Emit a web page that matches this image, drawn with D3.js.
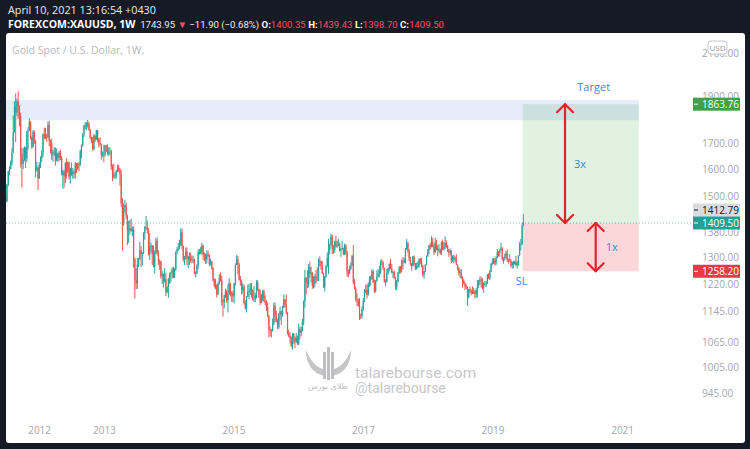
<!DOCTYPE html>
<html>
<head>
<meta charset="utf-8">
<script src="https://cdn.jsdelivr.net/npm/d3@7"></script>
<style>
  body { margin: 0; background: #161a25; }
  svg { display: block; }
</style>
</head>
<body>
<div id="chart"></div>
<script>
// weekly candles [open, high, low, close], first week = 2011-06-27
const firstWeek = new Date(2011, 5, 27);

const gold2011 = [
  [1500,1512,1478,1483],[1483,1545,1481,1543],[1543,1594,1537,1591],[1591,1610,1577,1601],[1601,1632,1599,1624],
  [1624,1681,1613,1663],[1663,1814,1662,1745],[1745,1877,1744,1852],[1852,1911,1705,1828],[1828,1889,1812,1876],
  [1876,1921,1800,1856],[1856,1860,1769,1813],[1813,1827,1606,1657],[1657,1682,1532,1620],[1620,1681,1600,1636],
  [1636,1688,1630,1683],[1683,1685,1604,1642],[1642,1751,1627,1747],[1747,1766,1675,1753],[1753,1803,1750,1788],
  [1788,1790,1715,1725],[1725,1728,1677,1686],[1686,1754,1683,1746],[1746,1752,1697,1711],[1711,1713,1570,1597],
  [1597,1628,1590,1606],[1606,1610,1523,1565]
];
const gold2012 = [
  [1565,1626,1564,1616],[1616,1648,1604,1642],[1642,1672,1627,1664],[1664,1740,1645,1737],[1737,1764,1716,1725],
  [1725,1763,1716,1725],[1725,1738,1706,1724],[1724,1790,1722,1776],[1776,1792,1688,1710],[1710,1715,1660,1700],
  [1700,1718,1635,1656],[1656,1675,1627,1662],[1662,1686,1650,1668],[1668,1683,1613,1631],[1631,1680,1630,1660],
  [1660,1663,1626,1642],[1642,1670,1631,1663],[1663,1675,1634,1643],[1643,1650,1576,1579],[1579,1598,1527,1591],
  [1591,1596,1532,1573],[1573,1627,1548,1622],[1622,1641,1565,1591],[1591,1628,1584,1627],[1627,1628,1562,1572],
  [1572,1605,1546,1604],[1604,1625,1575,1580],[1580,1604,1564,1590],[1590,1598,1566,1584],[1584,1627,1563,1619],
  [1619,1623,1585,1604],[1604,1625,1597,1620],[1620,1626,1592,1615],[1615,1675,1612,1670],[1670,1695,1641,1692],
  [1692,1741,1686,1739],[1739,1776,1725,1772],[1772,1787,1757,1773],[1773,1787,1752,1776],[1776,1796,1764,1781],
  [1781,1788,1751,1757],[1757,1758,1718,1723],[1723,1727,1700,1711],[1711,1726,1672,1676],[1676,1737,1672,1730],
  [1730,1735,1705,1713],[1713,1754,1713,1752],[1752,1755,1704,1713],[1713,1722,1683,1702],[1702,1724,1690,1697],
  [1697,1699,1636,1657],[1657,1668,1646,1657],[1657,1694,1626,1656]
];
const gold2013 = [
  [1656,1694,1647,1691],[1691,1694,1666,1686],[1686,1695,1654,1659],[1659,1684,1649,1666],[1666,1684,1655,1667],
  [1667,1674,1597,1609],[1609,1617,1555,1581],[1581,1620,1565,1572],[1572,1588,1562,1577],[1577,1597,1565,1592],
  [1592,1616,1588,1605],[1605,1617,1589,1596],[1596,1604,1539,1580],[1580,1597,1464,1476],[1476,1494,1321,1405],
  [1405,1476,1400,1462],[1462,1488,1444,1469],[1469,1478,1422,1435],[1435,1437,1338,1386],[1386,1417,1345,1386],
  [1386,1420,1371,1392],[1392,1424,1381,1383],[1383,1398,1366,1387],[1387,1398,1269,1296],[1296,1299,1180,1234],
  [1234,1267,1207,1223],[1223,1298,1207,1277],[1277,1299,1271,1296],[1296,1349,1292,1322],[1322,1336,1271,1310],
  [1310,1317,1275,1312],[1312,1379,1311,1376],[1376,1400,1355,1395],[1395,1433,1386,1396],[1396,1418,1375,1387],
  [1387,1392,1306,1308],[1308,1376,1292,1333],[1333,1346,1315,1337],[1337,1338,1277,1310],[1310,1336,1270,1272],
  [1272,1322,1251,1316],[1316,1361,1310,1352],[1352,1362,1306,1314],[1314,1322,1277,1287],[1287,1294,1262,1288],
  [1288,1290,1237,1244],[1244,1259,1221,1250],[1250,1252,1211,1230],[1230,1268,1225,1235],[1235,1254,1187,1198],
  [1198,1214,1195,1213],[1213,1238,1182,1237]
];
const gold2014 = [
  [1237,1254,1221,1252],[1252,1256,1225,1254],[1254,1270,1236,1264],[1264,1272,1238,1240],[1240,1268,1238,1263],
  [1263,1318,1260,1318],[1318,1332,1309,1325],[1325,1345,1320,1326],[1326,1355,1325,1339],[1339,1392,1336,1379],
  [1379,1392,1325,1335],[1335,1337,1287,1294],[1294,1304,1277,1303],[1303,1331,1293,1318],[1318,1331,1277,1294],
  [1294,1305,1268,1301],[1301,1315,1277,1302],[1302,1315,1284,1291],[1291,1306,1282,1293],[1293,1305,1283,1292],
  [1292,1296,1250,1250],[1250,1258,1240,1252],[1252,1280,1250,1274],[1274,1325,1265,1316],[1316,1326,1308,1316],
  [1316,1332,1310,1317],[1317,1345,1307,1337],[1337,1339,1292,1310],[1310,1315,1288,1304],[1304,1312,1280,1293],
  [1293,1322,1281,1309],[1309,1321,1302,1305],[1305,1310,1273,1280],[1280,1296,1276,1287],[1287,1290,1262,1268],
  [1268,1270,1228,1231],[1231,1237,1211,1216],[1216,1236,1206,1217],[1217,1221,1183,1192],[1192,1226,1189,1222],
  [1222,1250,1219,1238],[1238,1255,1228,1231],[1231,1246,1161,1171],[1171,1179,1131,1169],[1169,1191,1153,1189],
  [1189,1208,1182,1200],[1200,1204,1168,1175],[1175,1222,1142,1191],[1191,1238,1191,1222],[1222,1225,1186,1195],
  [1195,1200,1171,1195],[1195,1202,1170,1186]
];
const gold2015 = [
  [1186,1224,1167,1224],[1224,1282,1216,1277],[1277,1307,1277,1294],[1294,1305,1250,1279],[1279,1283,1232,1234],
  [1234,1245,1216,1228],[1228,1234,1191,1204],[1204,1223,1194,1213],[1213,1220,1163,1167],[1167,1175,1150,1153],
  [1153,1187,1142,1185],[1185,1219,1184,1200],[1200,1221,1178,1201],[1201,1224,1190,1208],[1208,1224,1183,1203],
  [1203,1206,1175,1178],[1178,1215,1170,1179],[1179,1196,1170,1188],[1188,1232,1180,1225],[1225,1232,1201,1205],
  [1205,1207,1181,1189],[1189,1205,1162,1168],[1168,1193,1167,1180],[1180,1205,1172,1201],[1201,1205,1170,1174],
  [1174,1189,1162,1168],[1168,1176,1146,1157],[1157,1170,1130,1133],[1133,1135,1077,1098],[1098,1104,1080,1095],
  [1095,1098,1077,1094],[1094,1126,1092,1113],[1113,1170,1109,1160],[1160,1168,1117,1134],[1134,1146,1115,1121],
  [1121,1125,1098,1103],[1103,1141,1099,1137],[1137,1157,1121,1145],[1145,1147,1109,1137],[1137,1160,1131,1156],
  [1156,1191,1154,1177],[1177,1179,1157,1163],[1163,1191,1137,1142],[1142,1143,1084,1088],[1088,1097,1077,1081],
  [1081,1090,1062,1076],[1076,1079,1052,1056],[1056,1088,1046,1086],[1086,1088,1061,1075],[1075,1080,1050,1065],
  [1065,1088,1063,1076],[1076,1082,1058,1061]
];
const gold2016 = [
  [1061,1113,1058,1098],[1098,1105,1072,1089],[1089,1104,1080,1097],[1097,1125,1092,1118],[1118,1175,1108,1173],
  [1173,1263,1155,1239],[1239,1241,1191,1227],[1227,1261,1209,1221],[1221,1280,1211,1270],[1270,1287,1239,1250],
  [1250,1272,1226,1254],[1254,1256,1208,1217],[1217,1244,1208,1221],[1221,1250,1211,1243],[1243,1262,1224,1234],
  [1234,1270,1230,1231],[1231,1297,1230,1290],[1290,1303,1272,1289],[1289,1290,1262,1273],[1273,1289,1250,1252],
  [1252,1254,1210,1212],[1212,1245,1200,1243],[1243,1276,1239,1275],[1275,1315,1270,1298],[1298,1358,1250,1322],
  [1322,1343,1309,1340],[1340,1375,1336,1366],[1366,1372,1310,1327],[1327,1338,1311,1323],[1323,1352,1314,1350],
  [1350,1368,1330,1335],[1335,1352,1330,1335],[1335,1358,1335,1341],[1341,1346,1318,1321],[1321,1330,1301,1326],
  [1326,1352,1323,1328],[1328,1330,1307,1310],[1310,1343,1307,1337],[1337,1341,1308,1316],[1316,1320,1242,1257],
  [1257,1264,1241,1251],[1251,1275,1250,1266],[1266,1284,1262,1275],[1275,1308,1274,1304],[1304,1338,1220,1226],
  [1226,1235,1205,1208],[1208,1213,1171,1178],[1178,1194,1160,1177],[1177,1180,1157,1160],[1160,1181,1122,1134],
  [1134,1139,1124,1133],[1133,1159,1126,1151]
];
const gold2017 = [
  [1151,1181,1146,1173],[1173,1207,1170,1197],[1197,1220,1195,1204],[1204,1219,1180,1190],[1190,1226,1188,1220],
  [1220,1244,1213,1234],[1234,1245,1216,1236],[1236,1264,1233,1257],[1257,1263,1224,1226],[1226,1234,1195,1201],
  [1201,1233,1197,1229],[1229,1261,1228,1243],[1243,1264,1240,1249],[1249,1274,1240,1254],[1254,1292,1250,1285],
  [1285,1295,1276,1284],[1284,1289,1262,1268],[1268,1269,1225,1228],[1228,1235,1214,1228],[1228,1265,1225,1254],
  [1254,1269,1248,1267],[1267,1282,1258,1280],[1280,1296,1264,1266],[1266,1280,1252,1254],[1254,1260,1238,1256],
  [1256,1260,1236,1241],[1241,1242,1205,1212],[1212,1233,1204,1228],[1228,1256,1225,1254],[1254,1274,1250,1269],
  [1269,1274,1252,1264],[1264,1294,1255,1289],[1289,1301,1264,1285],[1285,1298,1282,1291],[1291,1329,1281,1325],
  [1325,1357,1323,1346],[1346,1348,1313,1320],[1320,1326,1288,1297],[1297,1302,1275,1280],[1280,1283,1260,1274],
  [1274,1305,1272,1303],[1303,1306,1276,1280],[1280,1283,1262,1266],[1266,1284,1263,1269],[1269,1288,1268,1275],
  [1275,1297,1270,1294],[1294,1298,1279,1288],[1288,1299,1270,1275],[1275,1278,1242,1248],[1248,1260,1236,1256],
  [1256,1279,1255,1278],[1278,1306,1277,1303]
];
const gold2018 = [
  [1303,1326,1302,1322],[1322,1338,1310,1338],[1338,1345,1324,1332],[1332,1366,1331,1349],[1349,1361,1331,1333],
  [1333,1341,1307,1316],[1316,1362,1313,1347],[1347,1355,1322,1330],[1330,1338,1303,1323],[1323,1341,1316,1324],
  [1324,1327,1309,1313],[1313,1350,1307,1347],[1347,1356,1322,1325],[1325,1348,1321,1332],[1332,1366,1325,1345],
  [1345,1353,1330,1336],[1336,1338,1316,1323],[1323,1326,1302,1314],[1314,1327,1306,1320],[1320,1322,1283,1291],
  [1291,1306,1286,1302],[1302,1308,1282,1294],[1294,1303,1286,1298],[1298,1310,1277,1278],[1278,1279,1261,1269],
  [1269,1270,1246,1253],[1253,1263,1238,1255],[1255,1265,1235,1241],[1241,1244,1211,1231],[1231,1235,1220,1223],
  [1223,1227,1204,1214],[1214,1220,1206,1211],[1211,1214,1160,1184],[1184,1207,1180,1206],[1206,1214,1195,1201],
  [1201,1206,1189,1196],[1196,1214,1192,1194],[1194,1211,1193,1200],[1200,1204,1180,1192],[1192,1209,1182,1203],
  [1203,1233,1183,1218],[1218,1233,1210,1228],[1228,1243,1218,1234],[1234,1243,1211,1233],[1233,1238,1206,1209],
  [1209,1226,1196,1222],[1222,1230,1216,1222],[1222,1230,1212,1222],[1222,1250,1221,1248],[1248,1253,1235,1238],
  [1238,1262,1232,1257],[1257,1283,1256,1280],[1280,1298,1276,1285]
];
const gold2019 = [
  [1285,1298,1280,1290],[1290,1298,1276,1282],[1282,1304,1276,1298],[1298,1326,1297,1317],[1317,1319,1303,1314],
  [1314,1324,1302,1322],[1322,1346,1320,1328],[1328,1332,1290,1294],[1294,1300,1281,1298],[1298,1311,1290,1302],
  [1302,1320,1296,1313],[1313,1325,1286,1292],[1292,1296,1281,1291],[1291,1310,1287,1290],[1290,1295,1270,1276],
  [1276,1287,1266,1286],[1286,1290,1267,1280],[1280,1290,1278,1286],[1286,1304,1274,1276],[1276,1289,1266,1284],
  [1284,1306,1275,1306],[1306,1348,1305,1341],[1341,1358,1321,1341],[1341,1411,1338,1400],[1400.35,1439.43,1398.70,1409.50]
];

// price axis ticks and year labels
const priceTicks = [2100, 1900, 1700, 1600, 1500, 1380, 1300, 1220, 1145, 1065, 1005, 945];
const yearTicks = [2012, 2013, 2015, 2017, 2019, 2021];

// drawing levels
const targetPrice = 1863.76;
const entryPrice = 1409.50;
const stopPrice = 1258.20;
const markPrice = 1412.79;
const resistBand = [1795, 1882];
const toolStart = new Date(2019, 5, 20), toolEnd = new Date(2021, 3, 5);
const arrowDates = [new Date(2020, 1, 14), new Date(2020, 7, 5)];

const W = 750, H = 449;
const plot = {left: 6, top: 33, right: 692, bottom: 420};

const candles = [].concat(gold2011, gold2012, gold2013, gold2014, gold2015, gold2016, gold2017, gold2018, gold2019)
  .map(function(d, i) {
    return {date: d3.timeWeek.offset(firstWeek, i), o: d[0], h: d[1], l: d[2], c: d[3]};
  });

const x = d3.scaleTime()
  .domain([new Date(2013, 0, 1), new Date(2019, 0, 1)])
  .range([104, 492.5]);

const y = d3.scaleLog()
  .domain([945, 1900])
  .range([393, 96]);

const svg = d3.select('#chart').append('svg')
  .attr('width', W).attr('height', H)
  .style('font-family', '"Open Sans", sans-serif');

svg.append('rect').attr('width', W).attr('height', H).attr('fill', '#161a25');
svg.append('rect')
  .attr('x', 6).attr('y', 33).attr('width', 739).attr('height', 410)
  .attr('rx', 3).attr('fill', '#ffffff');

// header
const head = svg.append('g').attr('font-size', 10.8).attr('fill', '#e8eaed');
head.append('text').attr('x', 8).attr('y', 14).text('April 10, 2021 13:16:54 +0430');
const l2 = head.append('text').attr('x', 8).attr('y', 28);
const red = '#f0505c';
[['FOREXCOM:XAUUSD, 1W', '#fff', 700, 10.5, 'Open Sans'],
 ['  1743.95 ', '#e8eaed', 400, 9.6, 'Roboto'], ['\u25BC', red, 400, 9.6, 'Roboto'],
 [' \u221211.90 (\u22120.68%) ', '#e8eaed', 400, 9.6, 'Roboto'],
 ['O:', '#fff', 700, 9.6, 'Roboto'], ['1400.35', red, 400, 9.6, 'Roboto'],
 [' H:', '#fff', 700, 9.6, 'Roboto'], ['1439.43', red, 400, 9.6, 'Roboto'],
 [' L:', '#fff', 700, 9.6, 'Roboto'], ['1398.70', red, 400, 9.6, 'Roboto'],
 [' C:', '#fff', 700, 9.6, 'Roboto'], ['1409.50', red, 400, 9.6, 'Roboto']]
  .forEach(function(p) {
    l2.append('tspan').attr('fill', p[1]).attr('font-weight', p[2]).attr('font-size', p[3])
      .attr('font-family', p[4]).attr('xml:space', 'preserve').text(p[0]);
  });

svg.append('text').attr('x', 12).attr('y', 54).attr('font-size', 10.5)
  .attr('fill', '#b6b9c0').text('Gold Spot / U.S. Dollar, 1W,');

svg.append('clipPath').attr('id', 'clip').append('rect')
  .attr('x', plot.left).attr('y', plot.top)
  .attr('width', plot.right - plot.left).attr('height', plot.bottom - plot.top);

const area = svg.append('g').attr('clip-path', 'url(#clip)');

// position tool zones
area.append('rect')
  .attr('x', x(toolStart)).attr('width', x(toolEnd) - x(toolStart))
  .attr('y', y(targetPrice)).attr('height', y(entryPrice) - y(targetPrice))
  .attr('fill', 'rgba(76,175,80,0.17)');
area.append('rect')
  .attr('x', x(toolStart)).attr('width', x(toolEnd) - x(toolStart))
  .attr('y', y(entryPrice)).attr('height', y(stopPrice) - y(entryPrice))
  .attr('fill', 'rgba(242,54,69,0.2)');

// resistance band
area.append('rect')
  .attr('x', plot.left).attr('width', x(toolEnd) - plot.left)
  .attr('y', y(resistBand[1])).attr('height', y(resistBand[0]) - y(resistBand[1]))
  .attr('fill', 'rgba(60,110,220,0.13)');

// watermark
const wm = svg.append('g');
wm.append('path')
  .attr('d', 'M306,350 C306,366 315,375 326,376 L326,370 C317,368 311,362 306,350 Z')
  .attr('fill', '#c6c6c8');
wm.append('path')
  .attr('d', 'M351,350 C351,366 342,375 331,376 L331,370 C340,368 346,362 351,350 Z')
  .attr('fill', '#c6c6c8');
[324.5, 328.5, 332.5].forEach(function(px, i) {
  wm.append('rect').attr('x', px - 1.5).attr('y', i === 1 ? 347 : 352)
    .attr('width', 3).attr('height', i === 1 ? 33 : 27).attr('fill', '#bfbfc1');
});
wm.append('text').attr('x', 328).attr('y', 389).attr('text-anchor', 'middle')
  .attr('font-size', 8).attr('fill', '#bdbdbf').attr('font-family', '"DejaVu Sans", sans-serif')
  .text('طلای بورس');
wm.append('text').attr('x', 355).attr('y', 378).attr('font-size', 15.5)
  .attr('font-family', 'Roboto, sans-serif').attr('fill', '#c8c8ca').text('talarebourse.com');
wm.append('text').attr('x', 355).attr('y', 393).attr('font-size', 14)
  .attr('font-family', 'Roboto, sans-serif').attr('fill', '#c8c8ca').text('@talarebourse');

// entry dotted line
area.append('line')
  .attr('x1', plot.left).attr('x2', plot.right)
  .attr('y1', y(entryPrice)).attr('y2', y(entryPrice))
  .attr('stroke', '#26a69a').attr('stroke-opacity', 0.7)
  .attr('stroke-width', 1).attr('stroke-dasharray', '1,2');

// candles
const up = '#26a69a', down = '#ef5350';
const bars = area.selectAll('.candle').data(candles).enter().append('g').attr('class', 'candle');
bars.append('line')
  .attr('x1', function(d) { return x(d.date); })
  .attr('x2', function(d) { return x(d.date); })
  .attr('y1', function(d) { return y(d.h); })
  .attr('y2', function(d) { return y(d.l); })
  .attr('stroke', function(d) { return d.c >= d.o ? up : down; })
  .attr('stroke-width', 1);
bars.append('rect')
  .attr('x', function(d) { return x(d.date) - 0.6; })
  .attr('width', 1.2)
  .attr('y', function(d) { return y(Math.max(d.o, d.c)); })
  .attr('height', function(d) { return Math.max(0.8, Math.abs(y(d.o) - y(d.c))); })
  .attr('fill', function(d) { return d.c >= d.o ? up : down; });

// arrows
function arrow(date, p1, p2) {
  const ax = x(date), ya = y(p1), yb = y(p2);
  const g = area.append('g').attr('stroke', '#e5212b').attr('stroke-width', 2.2)
    .attr('fill', 'none').attr('stroke-linecap', 'round').attr('stroke-linejoin', 'round');
  g.append('line').attr('x1', ax).attr('x2', ax).attr('y1', ya).attr('y2', yb);
  g.append('path').attr('d', `M${ax - 8},${ya + 8} L${ax},${ya} L${ax + 8},${ya + 8}`);
  g.append('path').attr('d', `M${ax - 8},${yb - 8} L${ax},${yb} L${ax + 8},${yb - 8}`);
}
arrow(arrowDates[0], targetPrice, entryPrice);
arrow(arrowDates[1], entryPrice, stopPrice);

const blue = '#3f86dc';
const labels = svg.append('g').attr('fill', blue).attr('font-size', 11).attr('text-anchor', 'middle');
labels.append('text').attr('x', x(arrowDates[0]) + 15).attr('y', (y(targetPrice) + y(entryPrice)) / 2 + 4).text('3x');
labels.append('text').attr('x', x(arrowDates[1]) + 16).attr('y', (y(entryPrice) + y(stopPrice)) / 2 + 4).text('1x');
labels.append('text').attr('x', x(arrowDates[1]) - 2).attr('y', y(targetPrice) - 13).text('Target');
labels.append('text').attr('x', x(toolStart) - 1).attr('y', y(stopPrice) + 14).text('SL');

// price axis
const yAxis = svg.append('g')
  .attr('transform', 'translate(702,0)')
  .call(d3.axisRight(y).tickValues(priceTicks).tickFormat(d3.format('.2f')).tickSize(0).tickPadding(0));
yAxis.select('.domain').remove();
yAxis.selectAll('text').attr('fill', '#a3a6ae').attr('font-size', 10).attr('font-family', '"Open Sans", sans-serif');

// time axis
const xAxis = svg.append('g')
  .attr('transform', 'translate(0,427)')
  .call(d3.axisBottom(x).tickValues(yearTicks.map(function(yr) { return new Date(yr, 0, 1); }))
    .tickFormat(d3.timeFormat('%Y')).tickSize(0).tickPadding(0));
xAxis.select('.domain').remove();
xAxis.selectAll('text').attr('fill', '#a3a6ae').attr('font-size', 10).attr('font-family', '"Open Sans", sans-serif');

// USD badge
const usd = svg.append('g');
usd.append('rect').attr('x', 708).attr('y', 41).attr('width', 19).attr('height', 13).attr('rx', 3)
  .attr('fill', '#fff').attr('stroke', '#c5c7cc');
usd.append('text').attr('x', 717.5).attr('y', 51).attr('text-anchor', 'middle')
  .attr('font-size', 8).attr('fill', '#9a9da5').text('USD');

// price labels on the scale
function priceTag(yc, text, bg, fg) {
  const g = svg.append('g');
  g.append('rect').attr('x', 693).attr('y', yc - 6.5).attr('width', 47).attr('height', 13).attr('fill', bg);
  g.append('line').attr('x1', 694).attr('x2', 698).attr('y1', yc).attr('y2', yc).attr('stroke', fg);
  g.append('text').attr('x', 702).attr('y', yc + 3.6).attr('font-size', 10).attr('fill', fg).text(text);
}
priceTag(y(targetPrice), d3.format('.2f')(targetPrice), '#43a047', '#fff');
priceTag(y(entryPrice) - 13, d3.format('.2f')(markPrice), '#d9dbe0', '#131722');
priceTag(y(entryPrice), d3.format('.2f')(entryPrice), '#22a093', '#fff');
priceTag(y(stopPrice), d3.format('.2f')(stopPrice), '#f23645', '#fff');
</script>
</body>
</html>
